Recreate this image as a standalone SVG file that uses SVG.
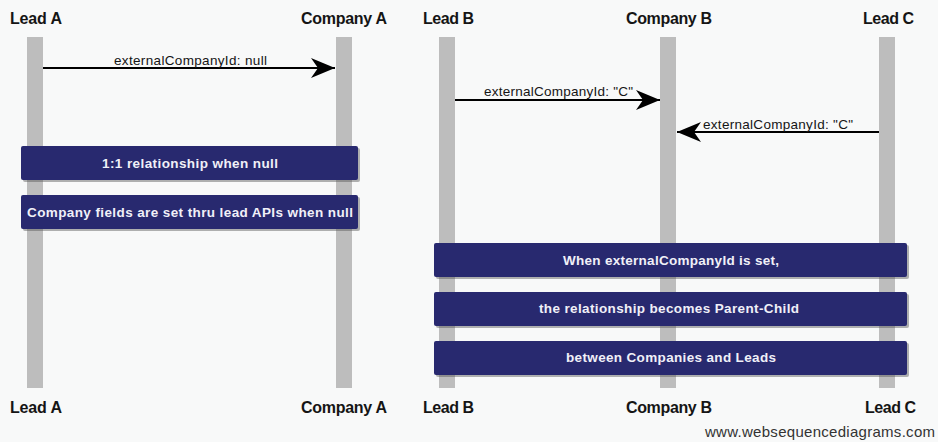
<svg xmlns="http://www.w3.org/2000/svg" width="938" height="442" viewBox="0 0 938 442">
<defs>
<style>
.bg{fill:#f8f9f9}
.life{fill:#bdbdbd}
.head{font-family:"Liberation Sans",Arial,sans-serif;font-weight:bold;font-size:16px;fill:#151515}
.msg{font-family:"Liberation Sans",Arial,sans-serif;font-size:13.5px;fill:#151515}
.line{stroke:#000;stroke-width:2;fill:none}
.note{fill:#28296f}
.shadow{fill:#555;opacity:0.45}
.ntext{font-family:"Liberation Sans",Arial,sans-serif;font-weight:bold;font-size:13.5px;fill:#f0f0f8}
.foot{font-family:"Liberation Sans",Arial,sans-serif;font-size:15px;fill:#333}
</style>
<marker id="arr" markerWidth="26" markerHeight="20" refX="24" refY="10" orient="auto" markerUnits="userSpaceOnUse">
<path d="M0,0 L24,10 L0,20 L7,10 Z" fill="#000"/>
</marker>
</defs>
<rect class="bg" x="0" y="0" width="938" height="442"/>

<g id="lifeline-leadA">
<rect class="life" x="27" y="37" width="16" height="351"/>
<text class="head" x="10" y="24" textLength="52">Lead A</text>
<text class="head" x="10" y="413" textLength="52">Lead A</text>
</g>
<g id="lifeline-companyA">
<rect class="life" x="336" y="37" width="16" height="351"/>
<text class="head" x="301" y="24" textLength="86">Company A</text>
<text class="head" x="301" y="413" textLength="86">Company A</text>
</g>
<g id="lifeline-leadB">
<rect class="life" x="439" y="37" width="16" height="351"/>
<text class="head" x="423" y="24" textLength="51">Lead B</text>
<text class="head" x="423" y="413" textLength="51">Lead B</text>
</g>
<g id="lifeline-companyB">
<rect class="life" x="660" y="37" width="16" height="351"/>
<text class="head" x="626" y="24" textLength="86">Company B</text>
<text class="head" x="626" y="413" textLength="86">Company B</text>
</g>
<g id="lifeline-leadC">
<rect class="life" x="879" y="37" width="16" height="351"/>
<text class="head" x="863" y="24" textLength="51">Lead C</text>
<text class="head" x="865" y="413" textLength="51">Lead C</text>
</g>

<g id="connectors">
<line class="line" x1="43" y1="68" x2="335" y2="68" marker-end="url(#arr)"/>
<text class="msg" x="114" y="65" textLength="153">externalCompanyId: null</text>
<line class="line" x1="455" y1="100" x2="660" y2="100" marker-end="url(#arr)"/>
<text class="msg" x="484" y="96" textLength="149">externalCompanyId: "C"</text>
<line class="line" x1="879" y1="132" x2="677" y2="132" marker-end="url(#arr)"/>
<text class="msg" x="703" y="129" textLength="150">externalCompanyId: "C"</text>
</g>

<g id="note-1">
<rect class="shadow" x="23" y="148" width="337" height="34" rx="2"/>
<rect class="note" x="21" y="146" width="337" height="34" rx="2"/>
<text class="ntext" x="102" y="168" textLength="176">1:1 relationship when null</text>
</g>
<g id="note-2">
<rect class="shadow" x="23" y="197" width="337" height="34" rx="2"/>
<rect class="note" x="21" y="195" width="337" height="34" rx="2"/>
<text class="ntext" x="27" y="217" textLength="326">Company fields are set thru lead APIs when null</text>
</g>
<g id="note-3">
<rect class="shadow" x="436" y="245" width="473" height="34" rx="2"/>
<rect class="note" x="434" y="243" width="473" height="34" rx="2"/>
<text class="ntext" x="563" y="265" textLength="216">When externalCompanyId is set,</text>
</g>
<g id="note-4">
<rect class="shadow" x="436" y="294" width="473" height="34" rx="2"/>
<rect class="note" x="434" y="292" width="473" height="34" rx="2"/>
<text class="ntext" x="539" y="313" textLength="260">the relationship becomes Parent-Child</text>
</g>
<g id="note-5">
<rect class="shadow" x="436" y="343" width="473" height="34" rx="2"/>
<rect class="note" x="434" y="341" width="473" height="34" rx="2"/>
<text class="ntext" x="566" y="362" textLength="210">between Companies and Leads</text>
</g>

<text class="foot" x="705" y="437" textLength="230">www.websequencediagrams.com</text>
</svg>
